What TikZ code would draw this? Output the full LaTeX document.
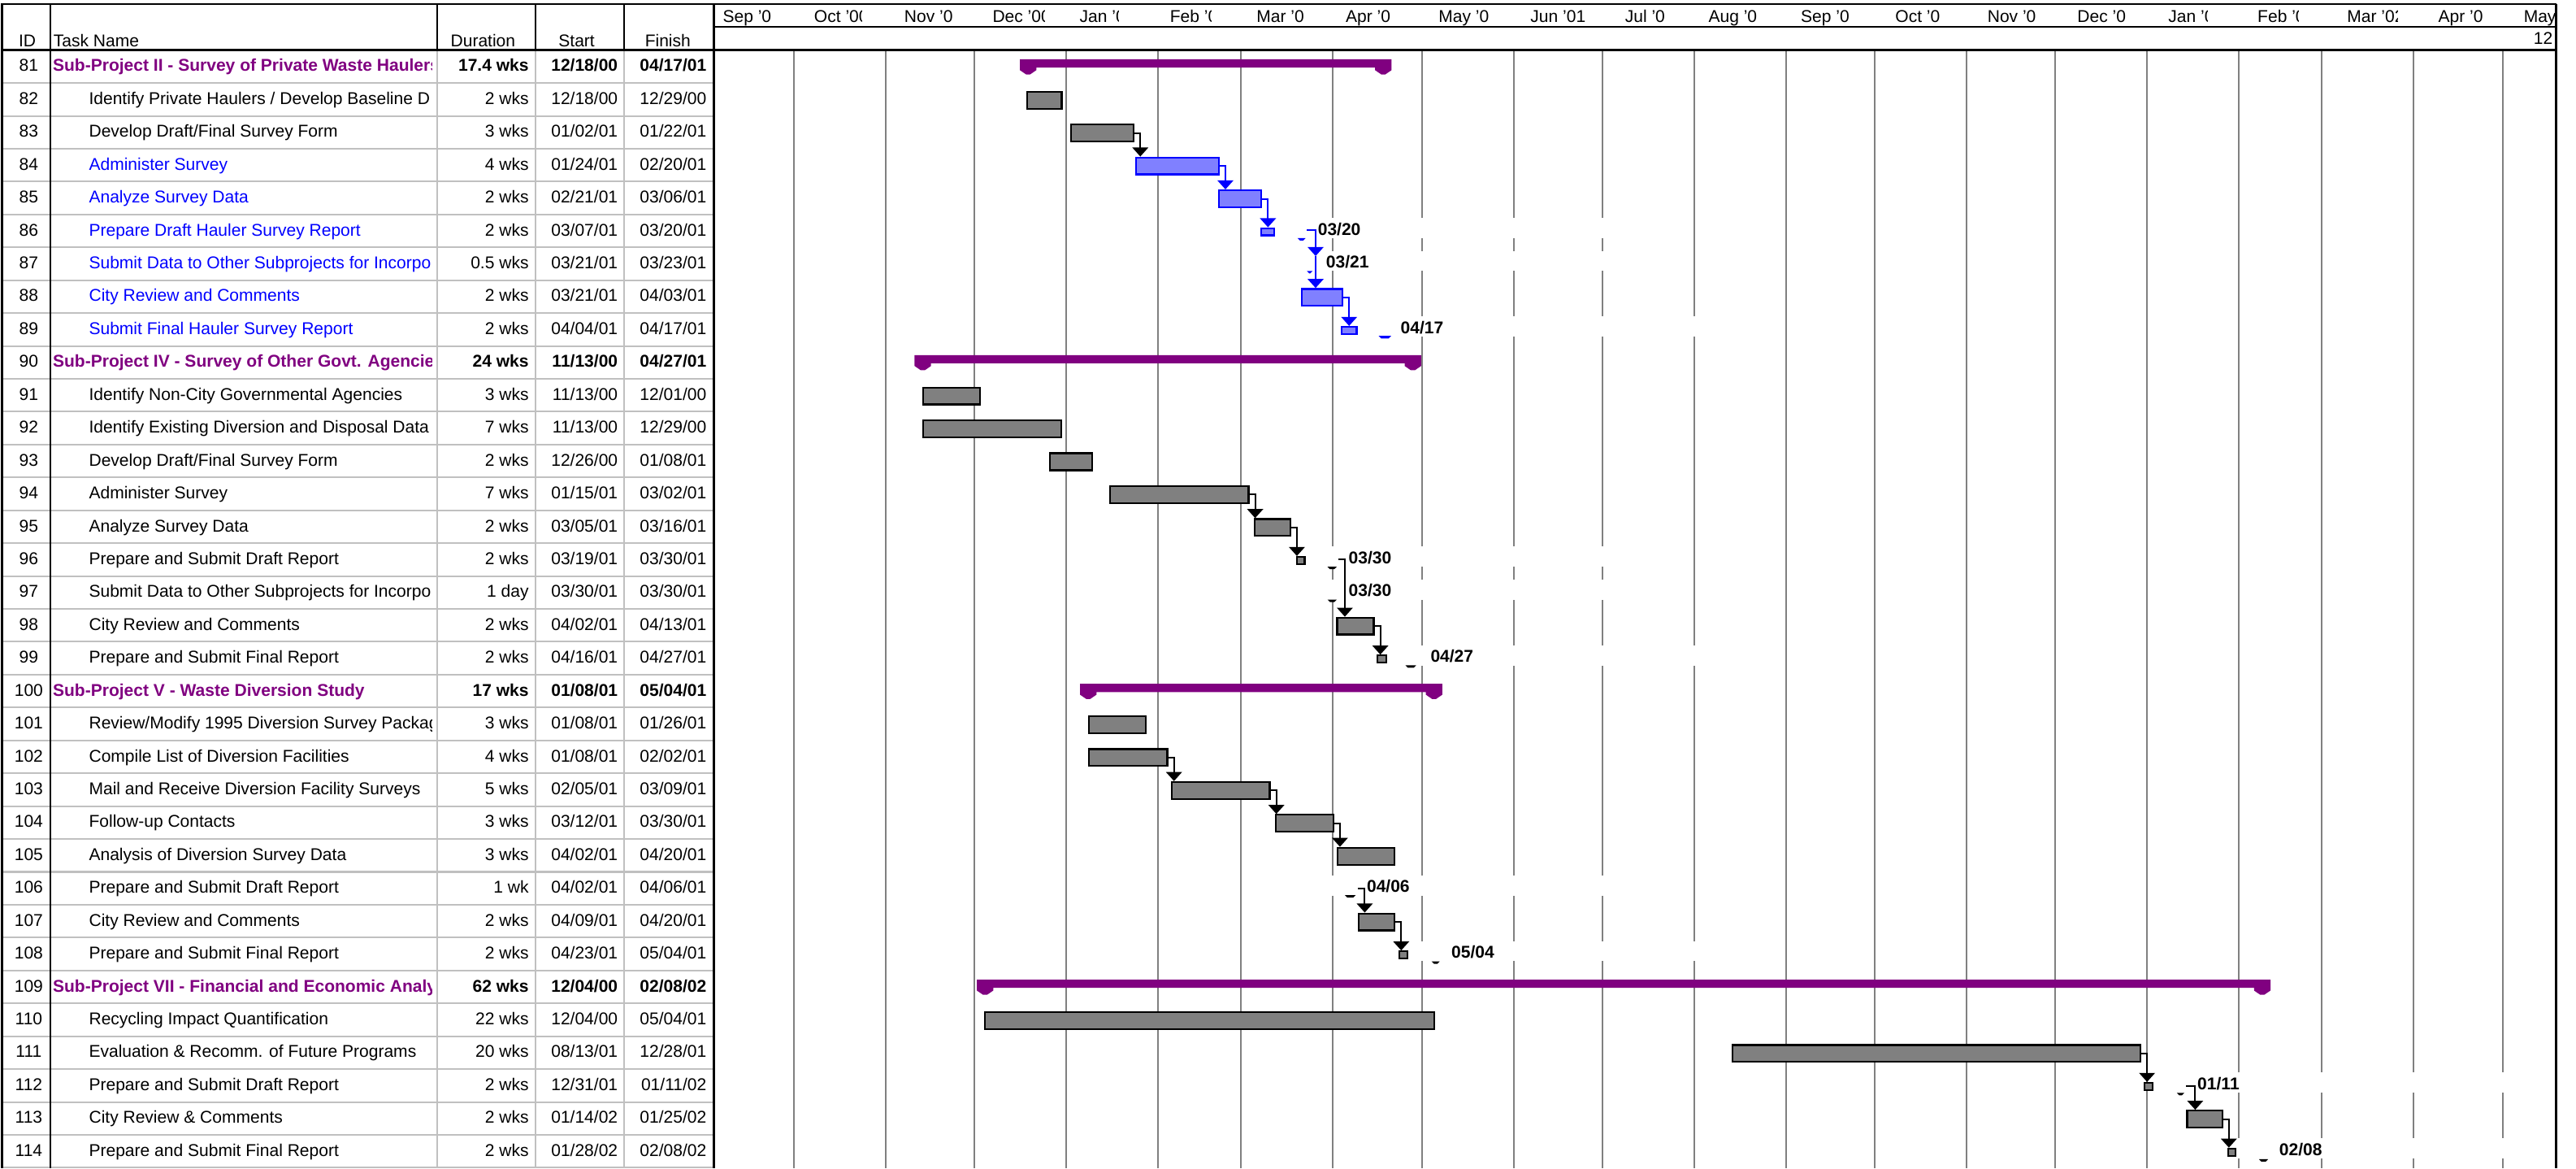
\documentclass[tikz,border=0pt]{standalone}
\usepackage{fontspec}
\setmainfont{Liberation Sans}
\usetikzlibrary{arrows.meta}
\definecolor{pp}{RGB}{128,0,128}
\definecolor{bb}{RGB}{0,0,255}
\definecolor{lb}{RGB}{128,128,255}
\definecolor{gg}{RGB}{128,128,128}
\definecolor{lg}{RGB}{192,192,192}

\tikzset{
  txt/.style={inner sep=0pt, font=\fontsize{10.4}{12}\selectfont},
  idtxt/.style={txt, anchor=base},
  tname/.style={txt, anchor=base west, xshift=23pt},
  bname/.style={tname, text=bb},
  sname/.style={txt, anchor=base west, xshift=1pt, text=pp, font=\fontsize{10.4}{12}\selectfont\bfseries},
  num/.style={txt, anchor=base east},
  snum/.style={num, font=\fontsize{10.4}{12}\selectfont\bfseries},
  datelbl/.style={txt, anchor=base west, font=\fontsize{10.4}{12}\selectfont\bfseries},
  gbar/.style={rectangle, anchor=west, inner sep=0pt, minimum height=10.3pt, draw=black, fill=gg, line width=1.1pt},
  bbar/.style={gbar, draw=bb, fill=lb},
  gfrag/.style={gbar, anchor=north west, minimum height=4.4pt},
  bfrag/.style={gfrag, draw=bb, fill=lb},
  glink/.style={black, line width=1pt, -{Triangle[width=9.6pt,length=5.5pt]}},
  blink/.style={glink, color=bb},
  grid/.style={gg, line width=1pt}
}

% one line of the task table: row, id, name style, number style, name, duration, start, finish
\newcommand{\taskrow}[8]{%
  \node[idtxt] (i#2) at (17.5,{43.5+20*#1}) {#2};
  \begin{scope}
    \clip (31,{30.5+20*#1}) rectangle (263,{50.5+20*#1});
    \node[#3] (n#2) at (31,{43.5+20*#1}) {#5};
  \end{scope}
  \node[#4] (d#2) at (322,{43.5+20*#1}) {#6};
  \node[#4] (s#2) at (376.2,{43.5+20*#1}) {#7};
  \node[#4] (f#2) at (430.2,{43.5+20*#1}) {#8};
}
% summary bar: row top, left, right
\newcommand{\sumbar}[3]{%
  \fill[pp] (#2,{#1+5.6}) -- (#3,{#1+5.6}) -- (#3,{#1+12.2}) -- ({#3-3.8},{#1+14.8})
    -- ({#3-6.2},{#1+14.8}) -- ({#3-10},{#1+12.2}) -- ({#3-10},{#1+10.6}) -- ({#2+10},{#1+10.6})
    -- ({#2+10},{#1+12.2}) -- ({#2+6.2},{#1+14.8}) -- ({#2+3.8},{#1+14.8}) -- (#2,{#1+12.2}) -- cycle;
}
% small finish mark under a label
\newcommand{\fintick}[4]{%
  \fill[#1] (#2,#4) -- (#3,#4) -- ({#3-1.5},{#4+1.5}) -- ({#2+1.5},{#4+1.5}) -- cycle;
}

\begin{document}
\begin{tikzpicture}[x=1pt, y=-1pt]
\useasboundingbox (0,0) rectangle (1568,710.8);

% table rules
\foreach \j in {1,...,34} \draw[lg, line width=1pt] (1,{30.5+20*\j}) -- (434.5,{30.5+20*\j});
\foreach \x in {266,326,380} {
  \draw[black, line width=0.8pt] (\x,2.5) -- (\x,30.5);
  \draw[lg, line width=1pt] (\x,30.5) -- (\x,710.8);
}

% month grid
\foreach \x in {483.3,539.2,593.2,649.1,705.0,755.5,811.3,865.4,921.3,975.4,1031.2,1087.1,1141.2,1197.0,1251.1,1307.0,1362.8,1413.3,1469.2,1523.3}
  \draw[grid] (\x,31) -- (\x,710.8);

% label backgrounds
\foreach \x/\t in {802/130.5,807/150.5,852.4/190.5,820.7/330.5,820.7/350.5,870.6/390.5,831.8/530.5,883.3/570.5,1337.4/650.5,1387.2/690.5}
  \fill[white] ({\x-27},{\t+2.1}) rectangle ({\x+190},{\t+14.4});

% frame
\draw[black, line width=1.4pt] (0.5,2.5) -- (1556,2.5);
\draw[black, line width=1.4pt] (0.5,30.5) -- (1556,30.5);
\draw[black, line width=1pt] (434.5,16.5) -- (1556,16.5);
\draw[black, line width=1.5pt] (1.2,2.5) -- (1.2,710.8);
\draw[black, line width=1pt] (30.5,2.5) -- (30.5,710.8);
\draw[black, line width=1.4pt] (434.5,2.5) -- (434.5,710.8);

% headings
\node[idtxt] (hid) at (16.6,28.6) {ID};
\node[txt, anchor=base west] (htask) at (32.4,28.6) {Task Name};
\node[idtxt] (hdur) at (294,28.6) {Duration};
\node[idtxt] (hstart) at (351,28.6) {Start};
\node[idtxt] (hfin) at (406.5,28.6) {Finish};
\node[txt, anchor=base east] (yr) at (1554,27.2) {12};
\foreach \x/\c/\t [count=\i] in {439.8/480/Sep '0, 495.4/524.7/Oct '00, 550.3/590/Nov '0,
    604/635.7/Dec '00, 657/681.1/Jan '01, 712/737.3/Feb '01, 764.7/810/Mar '0, 819/860/Apr '0,
    875.5/915/May '0, 931.4/970/Jun '01, 989/1025/Jul '0, 1039.8/1080/Aug '0,
    1096/1135/Sep '0, 1153.5/1190/Oct '0, 1209.6/1245/Nov '0, 1264.3/1300/Dec '0,
    1319.7/1343.8/Jan '02, 1374/1399.3/Feb '02, 1428.5/1459.6/Mar '02, 1484/1520/Apr '0,
    1536/1560/May} {
  \begin{scope}
    \clip (\x-1,3.5) rectangle (\c,16);
    \node[txt, anchor=base west] (m\i) at (\x,13.6) {\t};
  \end{scope}
}
\draw[black, line width=1.4pt] (1556,2.5) -- (1556,710.8);

% table
\taskrow{0}{81}{sname}{snum}{Sub-Project II - Survey of Private Waste Haulers}{17.4 wks}{12/18/00}{04/17/01}
\taskrow{1}{82}{tname}{num}{Identify Private Haulers / Develop Baseline D}{2 wks}{12/18/00}{12/29/00}
\taskrow{2}{83}{tname}{num}{Develop Draft/Final Survey Form}{3 wks}{01/02/01}{01/22/01}
\taskrow{3}{84}{bname}{num}{Administer Survey}{4 wks}{01/24/01}{02/20/01}
\taskrow{4}{85}{bname}{num}{Analyze Survey Data}{2 wks}{02/21/01}{03/06/01}
\taskrow{5}{86}{bname}{num}{Prepare Draft Hauler Survey Report}{2 wks}{03/07/01}{03/20/01}
\taskrow{6}{87}{bname}{num}{Submit Data to Other Subprojects for Incorpo}{0.5 wks}{03/21/01}{03/23/01}
\taskrow{7}{88}{bname}{num}{City Review and Comments}{2 wks}{03/21/01}{04/03/01}
\taskrow{8}{89}{bname}{num}{Submit Final Hauler Survey Report}{2 wks}{04/04/01}{04/17/01}
\taskrow{9}{90}{sname}{snum}{Sub-Project IV - Survey of Other Govt. Agencies}{24 wks}{11/13/00}{04/27/01}
\taskrow{10}{91}{tname}{num}{Identify Non-City Governmental Agencies}{3 wks}{11/13/00}{12/01/00}
\taskrow{11}{92}{tname}{num}{Identify Existing Diversion and Disposal Data}{7 wks}{11/13/00}{12/29/00}
\taskrow{12}{93}{tname}{num}{Develop Draft/Final Survey Form}{2 wks}{12/26/00}{01/08/01}
\taskrow{13}{94}{tname}{num}{Administer Survey}{7 wks}{01/15/01}{03/02/01}
\taskrow{14}{95}{tname}{num}{Analyze Survey Data}{2 wks}{03/05/01}{03/16/01}
\taskrow{15}{96}{tname}{num}{Prepare and Submit Draft Report}{2 wks}{03/19/01}{03/30/01}
\taskrow{16}{97}{tname}{num}{Submit Data to Other Subprojects for Incorpo}{1 day}{03/30/01}{03/30/01}
\taskrow{17}{98}{tname}{num}{City Review and Comments}{2 wks}{04/02/01}{04/13/01}
\taskrow{18}{99}{tname}{num}{Prepare and Submit Final Report}{2 wks}{04/16/01}{04/27/01}
\taskrow{19}{100}{sname}{snum}{Sub-Project V - Waste Diversion Study}{17 wks}{01/08/01}{05/04/01}
\taskrow{20}{101}{tname}{num}{Review/Modify 1995 Diversion Survey Packag}{3 wks}{01/08/01}{01/26/01}
\taskrow{21}{102}{tname}{num}{Compile List of Diversion Facilities}{4 wks}{01/08/01}{02/02/01}
\taskrow{22}{103}{tname}{num}{Mail and Receive Diversion Facility Surveys}{5 wks}{02/05/01}{03/09/01}
\taskrow{23}{104}{tname}{num}{Follow-up Contacts}{3 wks}{03/12/01}{03/30/01}
\taskrow{24}{105}{tname}{num}{Analysis of Diversion Survey Data}{3 wks}{04/02/01}{04/20/01}
\taskrow{25}{106}{tname}{num}{Prepare and Submit Draft Report}{1 wk}{04/02/01}{04/06/01}
\taskrow{26}{107}{tname}{num}{City Review and Comments}{2 wks}{04/09/01}{04/20/01}
\taskrow{27}{108}{tname}{num}{Prepare and Submit Final Report}{2 wks}{04/23/01}{05/04/01}
\taskrow{28}{109}{sname}{snum}{Sub-Project VII - Financial and Economic Analy}{62 wks}{12/04/00}{02/08/02}
\taskrow{29}{110}{tname}{num}{Recycling Impact Quantification}{22 wks}{12/04/00}{05/04/01}
\taskrow{30}{111}{tname}{num}{Evaluation \& Recomm. of Future Programs}{20 wks}{08/13/01}{12/28/01}
\taskrow{31}{112}{tname}{num}{Prepare and Submit Draft Report}{2 wks}{12/31/01}{01/11/02}
\taskrow{32}{113}{tname}{num}{City Review \& Comments}{2 wks}{01/14/02}{01/25/02}
\taskrow{33}{114}{tname}{num}{Prepare and Submit Final Report}{2 wks}{01/28/02}{02/08/02}

% summary bars
\sumbar{30.5}{620.8}{847}
\sumbar{210.5}{556.7}{865}
\sumbar{410.5}{657.4}{877.9}
\sumbar{590.5}{594.6}{1382}

% task bars
\node[gbar, minimum width=21pt] (82) at (624.7,60.95) {};
\node[gbar, minimum width=38.3pt] (83) at (651.2,80.95) {};
\node[bbar, minimum width=50.4pt] (84) at (690.9,100.95) {};
\node[bbar, minimum width=25.9pt] (85) at (741.3,120.95) {};
\node[bfrag, minimum width=8pt] (86) at (767,138.3) {};
\node[bbar, minimum width=24.9pt] (88) at (791.7,180.95) {};
\node[bfrag, minimum width=9pt] (89) at (816.2,198.3) {};
\node[gbar, minimum width=34.7pt] (91) at (561.3,240.95) {};
\node[gbar, minimum width=84.1pt] (92) at (561.3,260.95) {};
\node[gbar, minimum width=25.8pt] (93) at (638.6,280.95) {};
\node[gbar, minimum width=84.4pt] (94) at (675,300.95) {};
\node[gbar, minimum width=21.6pt] (95) at (763.2,320.95) {};
\node[gfrag, minimum width=4.9pt] (96) at (788.7,338.3) {};
\node[gbar, minimum width=22.2pt] (98) at (813.4,380.95) {};
\node[gfrag, minimum width=5.4pt] (99) at (838,398.3) {};
\node[gbar, minimum width=34.9pt] (101) at (662.1,440.95) {};
\node[gbar, minimum width=47.9pt] (102) at (662.1,460.95) {};
\node[gbar, minimum width=59.6pt] (103) at (712.7,480.95) {};
\node[gbar, minimum width=35pt] (104) at (776,500.95) {};
\node[gbar, minimum width=34.8pt] (105) at (813.5,520.95) {};
\node[gbar, minimum width=21.9pt] (107) at (826.4,560.95) {};
\node[gfrag, minimum width=4.9pt] (108) at (851.1,578.3) {};
\node[gbar, minimum width=273.5pt] (110) at (599,620.95) {};
\node[gbar, minimum width=248.4pt] (111) at (1053.9,640.95) {};
\node[gfrag, minimum width=4.9pt] (112) at (1304.8,658.3) {};
\node[gbar, minimum width=21.4pt] (113) at (1330.7,680.95) {};
\node[gfrag, minimum width=4.4pt] (114) at (1355.8,698.3) {};

% finish marks
\fintick{bb}{789.8}{794.7}{144.9}
\fintick{bb}{795.5}{799}{164.9}
\fintick{bb}{839.2}{846.7}{204.4}
\fintick{black}{808}{813.7}{344.8}
\fintick{black}{808}{813.7}{364.8}
\fintick{black}{855.5}{862}{404.8}
\fintick{black}{818.6}{825.2}{544.6}
\fintick{black}{871.4}{876.3}{585}
\fintick{black}{1325}{1329.5}{665}
\fintick{black}{1375}{1380.6}{705.3}

% links
\coordinate (e86) at (795.5,139.8);
\coordinate (a87) at (800.8,155.8);
\coordinate (e96) at (814.5,340.5);
\coordinate (e106) at (826.4,540.5);
\coordinate (e112) at (1330.7,660.8);
\draw[glink] (83.east) -- ++(3.5,0) -- ([xshift=3.5pt]83.east |- 84.north);
\draw[blink] (84.east) -- ++(3.5,0) -- ([xshift=3.5pt]84.east |- 85.north);
\draw[blink] (85.east) -- ++(3.5,0) -- ([xshift=3.5pt]85.east |- 86.north);
\draw[blink] (e86) -- (e86 -| a87) -- (a87);
\draw[blink] (a87) -- (a87 |- 88.north);
\draw[blink] (88.east) -- ++(3.5,0) -- ([xshift=3.5pt]88.east |- 89.north);
\draw[glink] (94.east) -- ++(3.5,0) -- ([xshift=3.5pt]94.east |- 95.north);
\draw[glink] (95.east) -- ++(3.5,0) -- ([xshift=3.5pt]95.east |- 96.north);
\draw[glink] (e96) -- ++(4.1,0) -- ([xshift=4.1pt]e96 |- 98.north);
\draw[glink] (98.east) -- ++(3.5,0) -- ([xshift=3.5pt]98.east |- 99.north);
\draw[glink] (102.east) -- ++(3.5,0) -- ([xshift=3.5pt]102.east |- 103.north);
\draw[glink] (103.east) -- ++(3.5,0) -- ([xshift=3.5pt]103.east |- 104.north);
\draw[glink] (104.east) -- ++(3.5,0) -- ([xshift=3.5pt]104.east |- 105.north);
\draw[glink] (e106) -- ++(4.3,0) -- ([xshift=4.3pt]e106 |- 107.north);
\draw[glink] (107.east) -- ++(3.5,0) -- ([xshift=3.5pt]107.east |- 108.north);
\draw[glink] (111.east) -- ++(3.5,0) -- ([xshift=3.5pt]111.east |- 112.north);
\draw[glink] (e112) -- ++(5.5,0) -- ([xshift=5.5pt]e112 |- 113.north);
\draw[glink] (113.east) -- ++(3.5,0) -- ([xshift=3.5pt]113.east |- 114.north);

% finish dates
\node[datelbl] (l86) at (802,143) {03/20};
\node[datelbl] (l87) at (807,163) {03/21};
\node[datelbl] (l89) at (852.4,203) {04/17};
\node[datelbl] (l96) at (820.7,343) {03/30};
\node[datelbl] (l97) at (820.7,363) {03/30};
\node[datelbl] (l99) at (870.6,403) {04/27};
\node[datelbl] (l106) at (831.8,543) {04/06};
\node[datelbl] (l108) at (883.3,583) {05/04};
\node[datelbl] (l112) at (1337.4,663) {01/11};
\node[datelbl] (l114) at (1387.2,703) {02/08};
\end{tikzpicture}
\end{document}
